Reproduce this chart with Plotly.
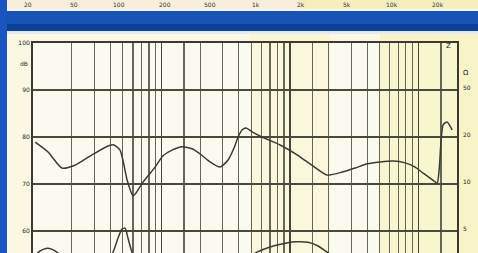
import numpy as np
import plotly.graph_objects as go

# ---- data ----
resp_hz = [10.4, 13.1, 16.8, 21.2, 28.8, 38.4, 42.7, 47.6, 51.1, 54.0, 60.1, 63.4, 71.9, 89.2,
           102.9, 120.9, 144.7, 173.1, 199.8, 239, 286, 330, 368, 395, 424, 456, 508, 607, 839,
           1138, 1516, 1949, 2596, 3220, 3993, 5041, 6364, 7891, 9441, 10900, 12580, 14010,
           14520, 15050, 15600, 16760, 18340]
resp_db = [78.9, 76.8, 73.4, 74.0, 76.2, 78.1, 78.3, 77.2, 74.0, 70.9, 67.5, 68.1, 70.4, 73.6,
           76.0, 77.2, 77.9, 77.5, 76.4, 74.7, 73.6, 75.1, 77.7, 80.0, 81.5, 81.9, 81.1, 80.0, 78.3,
           76.2, 73.8, 71.9, 72.6, 73.4, 74.3, 74.7, 74.9, 74.5, 73.6, 72.3, 71.1, 70.2,
           73.0, 79.4, 82.6, 83.2, 81.5]

imp_hz = [10, 11.3, 12.6, 14.1, 15.7, 18.1, 38.4, 42.7, 45.9, 49.3, 52.1, 54.9, 59.0, 65.7,
          139.6, 409, 555, 701, 885, 1098, 1386, 1658, 1949, 2460, 7212]
imp_val = [54.3, 55.7, 56.3, 56.1, 55.3, 54.3, 53.4, 56.0, 58.5, 60.4, 60.6, 58.5, 55.5, 53.4,
           52.1, 53.4, 55.5, 56.6, 57.3, 57.7, 57.6, 56.8, 55.5, 53.8, 52.8]

grid_minor_hz = [20, 30, 40, 50, 60, 70, 80, 90, 150, 200, 300, 400, 500, 600, 700, 800, 900,
                 1500, 2000, 3000, 4000, 5000, 6000, 7000, 8000, 9000, 15000]
grid_major_hz = [10, 100, 1000, 10000]
db_ticks = [60, 70, 80, 90, 100]
db_labels = ["60", "70", "80", "90", "100"]
ohm_labels = ["5", "10", "20", "50", "100"]
top_strip_labels = ["20", "50", "100", "200", "500", "1k", "2k", "5k", "10k", "20k"]

W, H = 478, 253
L, R, T, B = 33, 21, 43, 0
pw, ph = W - L - R, H - T - B

def px(xp):
    return (xp - L) / pw

def py(yp):
    return (H - B - yp) / ph

fig = go.Figure()
fig.add_trace(go.Scatter(x=resp_hz, y=resp_db, mode="lines",
                         line=dict(color="#3b3b36", width=1.5, shape="spline", smoothing=0.6),
                         showlegend=False, hoverinfo="skip"))
fig.add_trace(go.Scatter(x=imp_hz, y=imp_val, mode="lines",
                         line=dict(color="#3b3b36", width=1.5, shape="spline", smoothing=0.6),
                         showlegend=False, hoverinfo="skip"))

shapes = []
# soft yellow tints in the panel
shapes.append(dict(type="rect", xref="paper", yref="paper", x0=px(250), x1=px(330), y0=py(253), y1=py(34),
                   fillcolor="#f6f1a8", opacity=0.25, line_width=0, layer="below"))
shapes.append(dict(type="rect", xref="paper", yref="paper", x0=px(380), x1=px(478), y0=py(253), y1=py(34),
                   fillcolor="#f4ee96", opacity=0.35, line_width=0, layer="below"))
# top strip
shapes.append(dict(type="rect", xref="paper", yref="paper", x0=px(0), x1=px(478), y0=py(9), y1=py(0),
                   fillcolor="#f9eedb", line_width=0, layer="above"))
shapes.append(dict(type="rect", xref="paper", yref="paper", x0=px(300), x1=px(478), y0=py(9), y1=py(0),
                   fillcolor="#f5efb0", opacity=0.7, line_width=0, layer="above"))
shapes.append(dict(type="rect", xref="paper", yref="paper", x0=px(0), x1=px(478), y0=py(11), y1=py(9),
                   fillcolor="#f4f6f2", line_width=0, layer="above"))
# blue band
shapes.append(dict(type="rect", xref="paper", yref="paper", x0=px(0), x1=px(478), y0=py(31), y1=py(11),
                   fillcolor="#1854b6", line_width=0, layer="above"))
shapes.append(dict(type="rect", xref="paper", yref="paper", x0=px(0), x1=px(478), y0=py(31), y1=py(24),
                   fillcolor="#0d4196", line_width=0, layer="above"))
shapes.append(dict(type="rect", xref="paper", yref="paper", x0=px(0), x1=px(478), y0=py(34), y1=py(31),
                   fillcolor="#e3ebf1", line_width=0, layer="above"))
# left blue edge
shapes.append(dict(type="rect", xref="paper", yref="paper", x0=px(0), x1=px(7), y0=py(253), y1=py(0),
                   fillcolor="#1a56c2", line_width=0, layer="above"))

annotations = []
for i, lab in enumerate(top_strip_labels):
    annotations.append(dict(xref="paper", yref="paper", x=px(28 + i * 45.5), y=py(4.5),
                            text=lab, showarrow=False, font=dict(size=6, color="#333"),
                            xanchor="center", yanchor="middle"))
for v, lab in zip(db_ticks, ohm_labels):
    annotations.append(dict(xref="paper", yref="y", x=px(461), y=v + 0.6, text=lab, showarrow=False,
                            font=dict(size=6, color="#222"), xanchor="left", yanchor="middle"))
annotations.append(dict(xref="paper", yref="paper", x=px(30), y=py(63), text="dB", showarrow=False,
                        font=dict(size=6, color="#222"), xanchor="right", yanchor="middle"))
annotations.append(dict(xref="paper", yref="paper", x=px(461), y=py(73), text="Ω", showarrow=False,
                        font=dict(size=7, color="#222"), xanchor="left", yanchor="middle"))
annotations.append(dict(xref="paper", yref="paper", x=px(453), y=py(46), text="Z", showarrow=False,
                        font=dict(size=7, color="#222"), xanchor="right", yanchor="middle"))

fig.update_layout(
    width=W, height=H,
    margin=dict(l=L, r=R, t=T, b=B, pad=0),
    paper_bgcolor="#fbf7e2",
    plot_bgcolor="#fbfaee",
    shapes=shapes,
    annotations=annotations,
    font=dict(family="DejaVu Sans", color="#222"),
)
fig.update_xaxes(type="log", range=[1, np.log10(20000)],
                 tickmode="array", tickvals=grid_major_hz, showticklabels=False, ticks="",
                 showgrid=True, gridcolor="#45453a", gridwidth=1.6,
                 minor=dict(tickmode="array", tickvals=grid_minor_hz, showgrid=True,
                            gridcolor="#66665a", gridwidth=1.2, ticks=""),
                 showline=True, linecolor="#3a3a32", linewidth=2, mirror=True, zeroline=False)
fig.update_yaxes(range=[100 - (253 - 43) / 4.7, 100],
                 tickmode="array", tickvals=db_ticks, ticktext=db_labels,
                 tickfont=dict(size=6, color="#222"), ticks="",
                 showgrid=True, gridcolor="#4a4a3c", gridwidth=1.8,
                 showline=True, linecolor="#3a3a32", linewidth=2, mirror=True, zeroline=False)

fig.write_html("out.html",
               config={"displayModeBar": False, "staticPlot": True},
               post_script="document.body.style.margin='0';document.body.style.overflow='hidden';")
